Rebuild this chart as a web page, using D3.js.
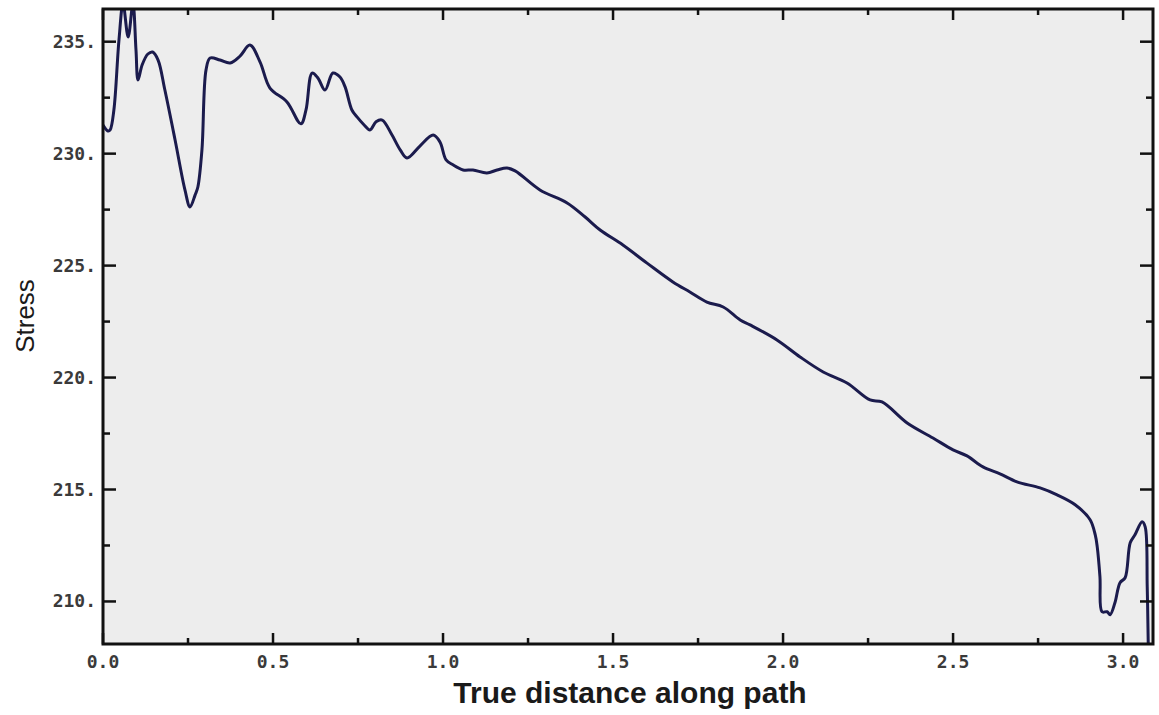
<!DOCTYPE html>
<html>
<head>
<meta charset="utf-8">
<script src="https://cdn.jsdelivr.net/npm/d3@7"></script>
<style>
  html, body { margin: 0; padding: 0; background: #ffffff; }
  svg { display: block; }
</style>
</head>
<body>
<svg id="chart" width="1159" height="715"></svg>
<script>
// Distance along the path and the stress sampled there
const distance = [
  0.000, 0.015, 0.021, 0.032, 0.047, 0.059, 0.074, 0.088, 0.097, 0.103,
  0.115, 0.132, 0.146, 0.162, 0.182, 0.212, 0.241, 0.256, 0.271, 0.279,
  0.291, 0.303, 0.315, 0.344, 0.374, 0.403, 0.432, 0.462, 0.491, 0.541,
  0.582, 0.597, 0.615, 0.632, 0.653, 0.676, 0.697, 0.712, 0.732, 0.747,
  0.768, 0.785, 0.803, 0.821, 0.850, 0.874, 0.894, 0.932, 0.971, 0.991,
  1.009, 1.029, 1.059, 1.088, 1.129, 1.159, 1.188, 1.212, 1.285, 1.365,
  1.418, 1.462, 1.529, 1.600, 1.676, 1.726, 1.776, 1.824, 1.874, 1.903,
  1.982, 2.050, 2.118, 2.188, 2.256, 2.291, 2.365, 2.441, 2.500, 2.541,
  2.588, 2.638, 2.688, 2.756, 2.806, 2.859, 2.903, 2.918, 2.924, 2.932,
  2.938, 2.953, 2.962, 2.976, 2.991, 3.006, 3.021, 3.035, 3.056, 3.065,
  3.071, 3.074, 3.076
];
const stress = [
  231.28, 231.01, 231.06, 231.95, 235.08, 236.70, 235.21, 236.70, 234.63, 233.29,
  233.96, 234.45, 234.54, 234.18, 232.84, 230.61, 228.38, 227.62, 228.16, 228.51,
  230.17, 233.74, 234.27, 234.18, 234.05, 234.36, 234.85, 234.09, 232.93, 232.31,
  231.33, 231.95, 233.60, 233.38, 232.84, 233.60, 233.42, 232.98, 231.95, 231.64,
  231.28, 231.06, 231.42, 231.50, 230.83, 230.17, 229.81, 230.34, 230.83, 230.52,
  229.72, 229.50, 229.27, 229.27, 229.14, 229.27, 229.36, 229.23, 228.38, 227.80,
  227.17, 226.59, 225.92, 225.11, 224.27, 223.82, 223.37, 223.15, 222.57, 222.35,
  221.68, 220.92, 220.25, 219.76, 219.00, 218.91, 217.97, 217.30, 216.77, 216.50,
  216.01, 215.70, 215.34, 215.07, 214.76, 214.32, 213.65, 212.98, 212.44, 211.10,
  209.54, 209.54, 209.41, 209.94, 210.84, 211.06, 212.62, 212.98, 213.56, 213.33,
  210.66, 208.10, 207.00
];

const xMajorTicks = [0.0, 0.5, 1.0, 1.5, 2.0, 2.5, 3.0];
const xMinorTicks = [0.25, 0.75, 1.25, 1.75, 2.25, 2.75];
const xTickLabels = ["0.0", "0.5", "1.0", "1.5", "2.0", "2.5", "3.0"];
const yMajorTicks = [210, 215, 220, 225, 230, 235];
const yMinorTicks = [212.5, 217.5, 222.5, 227.5, 232.5];
const yTickLabels = ["210.", "215.", "220.", "225.", "230.", "235."];

const xTitle = "True distance along path";
const yTitle = "Stress";

const svg = d3.select("#chart");
const box = { left: 103, top: 9, right: 1153, bottom: 644 };

const x = d3.scaleLinear().domain([0, 3.088]).range([box.left, box.right]);
const y = d3.scaleLinear().domain([208.1, 236.46]).range([box.bottom, box.top]);

// plot background
svg.append("rect")
  .attr("x", box.left).attr("y", box.top)
  .attr("width", box.right - box.left).attr("height", box.bottom - box.top)
  .attr("fill", "#ededed");

svg.append("clipPath").attr("id", "plotClip")
  .append("rect")
  .attr("x", box.left).attr("y", box.top)
  .attr("width", box.right - box.left).attr("height", box.bottom - box.top);

// stress curve
const pts = distance.map((d, i) => [d, stress[i]]);
const line = d3.line()
  .x(d => x(d[0]))
  .y(d => y(d[1]))
  .curve(d3.curveCatmullRom.alpha(0.5));

svg.append("path")
  .attr("clip-path", "url(#plotClip)")
  .attr("d", line(pts))
  .attr("fill", "none")
  .attr("stroke", "#1b1b4d")
  .attr("stroke-width", 3)
  .attr("stroke-linejoin", "round");

// inward-pointing ticks on all four sides
const tickColor = "#111";
function ticksX(values, len) {
  values.forEach(v => {
    svg.append("line").attr("x1", x(v)).attr("x2", x(v))
      .attr("y1", box.bottom).attr("y2", box.bottom - len)
      .attr("stroke", tickColor).attr("stroke-width", 2.5);
    svg.append("line").attr("x1", x(v)).attr("x2", x(v))
      .attr("y1", box.top).attr("y2", box.top + len)
      .attr("stroke", tickColor).attr("stroke-width", 2.5);
  });
}
function ticksY(values, len) {
  values.forEach(v => {
    svg.append("line").attr("x1", box.left).attr("x2", box.left + len)
      .attr("y1", y(v)).attr("y2", y(v))
      .attr("stroke", tickColor).attr("stroke-width", 2.5);
    svg.append("line").attr("x1", box.right).attr("x2", box.right - len)
      .attr("y1", y(v)).attr("y2", y(v))
      .attr("stroke", tickColor).attr("stroke-width", 2.5);
  });
}
ticksX(xMajorTicks, 11);
ticksX(xMinorTicks, 6);
ticksY(yMajorTicks, 13);
ticksY(yMinorTicks, 7);

// frame
svg.append("rect")
  .attr("x", box.left).attr("y", box.top)
  .attr("width", box.right - box.left).attr("height", box.bottom - box.top)
  .attr("fill", "none").attr("stroke", "#111").attr("stroke-width", 3);

// tick labels
const labelFont = "'DejaVu Sans Mono', monospace";
svg.append("g").selectAll("text")
  .data(xMajorTicks)
  .join("text")
  .attr("x", d => x(d))
  .attr("y", 668)
  .attr("text-anchor", "middle")
  .attr("font-family", labelFont)
  .attr("font-weight", "bold")
  .attr("font-size", 18)
  .attr("fill", "#3a3a3a")
  .text((d, i) => xTickLabels[i]);

svg.append("g").selectAll("text")
  .data(yMajorTicks)
  .join("text")
  .attr("x", 96)
  .attr("y", d => y(d) + 6)
  .attr("text-anchor", "end")
  .attr("font-family", labelFont)
  .attr("font-weight", "bold")
  .attr("font-size", 18)
  .attr("fill", "#3a3a3a")
  .text((d, i) => yTickLabels[i]);

// axis titles
svg.append("text")
  .attr("x", 630).attr("y", 703)
  .attr("text-anchor", "middle")
  .attr("font-family", "'Liberation Sans', Arial, sans-serif")
  .attr("font-weight", "bold")
  .attr("font-size", 30)
  .attr("fill", "#1a1a1a")
  .text(xTitle);

svg.append("text")
  .attr("transform", "translate(34,316) rotate(-90)")
  .attr("text-anchor", "middle")
  .attr("font-family", "'Liberation Sans', Arial, sans-serif")
  .attr("font-size", 26)
  .attr("fill", "#1a1a1a")
  .text(yTitle);
</script>
</body>
</html>
